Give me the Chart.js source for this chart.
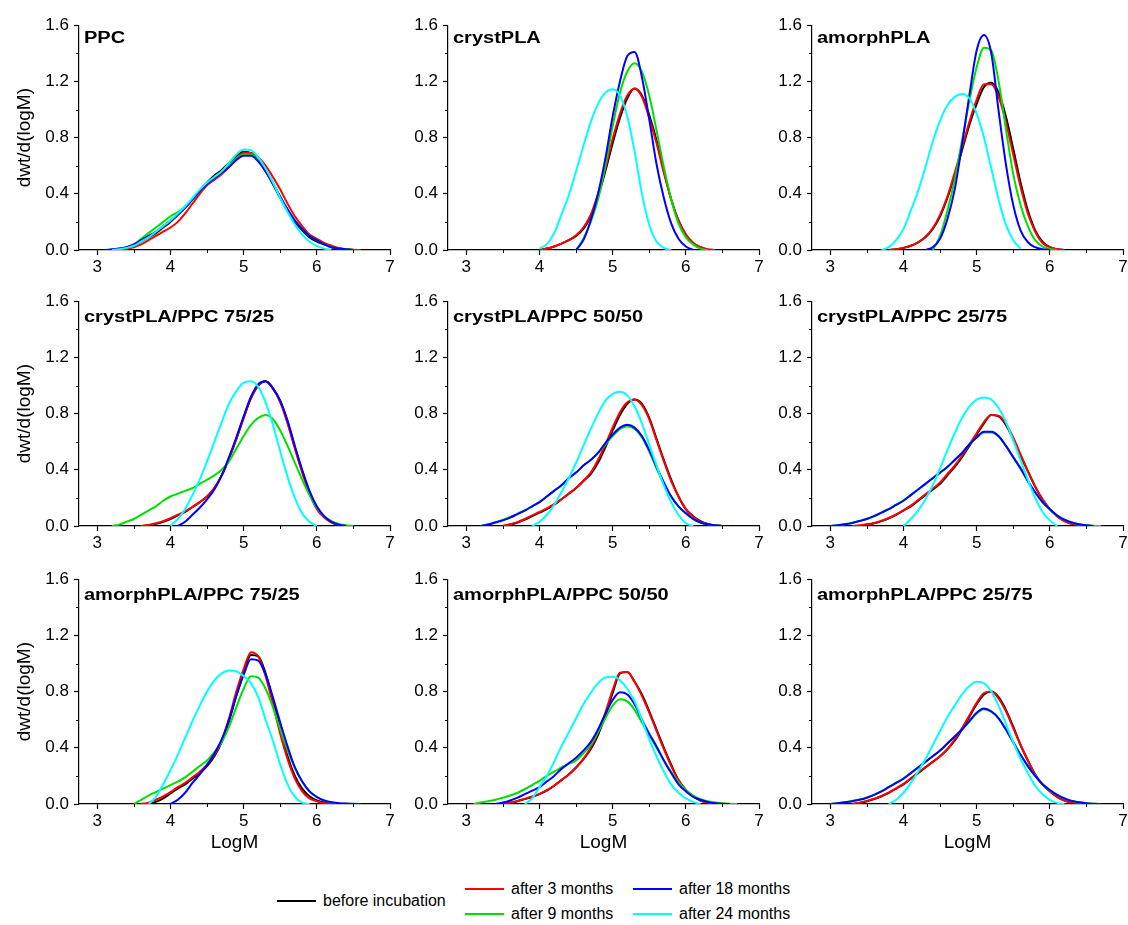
<!DOCTYPE html>
<html>
<head>
<meta charset="utf-8">
<script src="https://cdn.jsdelivr.net/npm/chart.js@4.4.1/dist/chart.umd.min.js"></script>
<style>
  html, body { margin: 0; padding: 0; background: #fff; }
  #figure { position: relative; width: 1128px; height: 925px; overflow: hidden; font-family: "Liberation Sans", Arial, sans-serif; }
  #figure canvas { position: absolute; }
  .key { position: absolute; height: 20px; display: flex; align-items: center; font-size: 16px; color: #000; white-space: nowrap; }
  .key .swatch { display: inline-block; width: 39px; height: 0; border-top: 2px solid; margin-right: 7px; }
</style>
</head>
<body>
<div id="figure"></div>
<script>
const _ = null

// shared axis
const logM = [3.0, 3.1, 3.2, 3.3, 3.4, 3.5, 3.6, 3.7, 3.8, 3.9,
  4.0, 4.1, 4.2, 4.3, 4.4, 4.5, 4.6, 4.7, 4.8, 4.9,
  5.0, 5.1, 5.2, 5.3, 5.4, 5.5, 5.6, 5.7, 5.8, 5.9,
  6.0, 6.1, 6.2, 6.3, 6.4, 6.5, 6.6, 6.7]
const xTicks = [3, 4, 5, 6, 7]
const xMinor = [3.5, 4.5, 5.5, 6.5]
const yTicks = [0, 0.4, 0.8, 1.2, 1.6]
const yMinor = [0.2, 0.6, 1.0, 1.4]

const seriesNames = ['before incubation', 'after 3 months', 'after 9 months', 'after 18 months', 'after 24 months']
const seriesColors = ['#000000', '#ff0000', '#00e000', '#0000ff', '#00ffff']
const panelNames = ['PPC', 'crystPLA', 'amorphPLA',
  'crystPLA/PPC 75/25', 'crystPLA/PPC 50/50', 'crystPLA/PPC 25/75',
  'amorphPLA/PPC 75/25', 'amorphPLA/PPC 50/50', 'amorphPLA/PPC 25/75']

// PPC
const ppcBefore = [_, _, _, 0, .01, .03, .06, .09, .12, .16,
  .20, .25, .30, .36, .42, .48, .53, .57, .62, .67,
  .70, .69, .64, .56, .47, .37, .28, .20, .14, .09,
  .06, .04, .02, .01, .005, 0, _, _]
const ppc3m = [_, _, _, 0, .01, .02, .04, .07, .10, .13,
  .16, .20, .26, .33, .40, .46, .50, .54, .59, .65,
  .69, .69, .66, .60, .52, .43, .33, .24, .17, .11,
  .08, .05, .03, .015, .005, .002, 0, _]
const ppc9m = [_, _, 0, .01, .02, .04, .08, .12, .16, .20,
  .24, .27, .31, .36, .42, .47, .51, .55, .60, .65,
  .68, .68, .64, .57, .48, .38, .29, .21, .15, .10,
  .07, .04, .02, .01, .005, 0, _, _]
const ppc18m = [_, 0, .005, .01, .02, .04, .07, .10, .13, .17,
  .21, .25, .30, .36, .42, .47, .51, .55, .59, .64,
  .67, .67, .63, .56, .47, .38, .29, .21, .15, .10,
  .07, .04, .02, .01, .005, 0, _, _]
const ppc24m = [_, _, 0, .005, .015, .03, .06, .09, .13, .17,
  .21, .26, .31, .37, .43, .48, .52, .56, .62, .68,
  .715, .71, .66, .58, .48, .37, .27, .18, .11, .06,
  .03, .01, 0, _, _, _, _, _]

// crystPLA
const cpBefore = [_, _, _, _, _, _, _, _, _, _,
  0, .01, .025, .045, .07, .10, .15, .24, .38, .56,
  .76, .94, 1.08, 1.15, 1.10, .96, .78, .56, .36, .21,
  .11, .05, .02, 0, _, _, _, _]
const cp3m = [_, _, _, _, _, _, _, _, _, _,
  0, .01, .025, .045, .07, .105, .16, .25, .40, .58,
  .79, .97, 1.10, 1.15, 1.09, .94, .76, .55, .36, .21,
  .11, .05, .02, .005, 0, _, _, _]
const cp9m = [_, _, _, _, _, _, _, _, _, _,
  _, _, _, _, _, 0, .08, .20, .36, .60,
  .88, 1.12, 1.27, 1.33, 1.27, 1.10, .85, .59, .36, .19,
  .09, .04, .01, 0, _, _, _, _]
const cp18m = [_, _, _, _, _, _, _, _, _, _,
  _, _, _, _, _, 0, .07, .21, .40, .65,
  .95, 1.20, 1.38, 1.41, 1.23, .93, .61, .37, .19, .08,
  .025, 0, _, _, _, _, _, _]
const cp24m = [_, _, _, _, _, _, _, _, _, _,
  .01, .04, .12, .25, .39, .56, .74, .91, 1.04, 1.12,
  1.145, 1.10, .95, .70, .40, .18, .06, .015, 0, _,
  _, _, _, _, _, _, _, _]

// amorphPLA
const apBefore = [_, _, _, _, _, _, _, _, 0, .005,
  .015, .03, .055, .09, .15, .24, .37, .53, .71, .89,
  1.04, 1.16, 1.19, 1.12, .95, .72, .48, .28, .14, .06,
  .02, .005, 0, _, _, _, _, _]
const ap3m = [_, _, _, _, _, _, _, _, 0, .005,
  .015, .03, .055, .095, .155, .25, .38, .55, .73, .91,
  1.07, 1.18, 1.18, 1.09, .91, .68, .45, .26, .13, .05,
  .02, .005, 0, _, _, _, _, _]
const ap9m = [_, _, _, _, _, _, _, _, _, _,
  _, _, _, _, 0, .10, .28, .50, .78, 1.06,
  1.30, 1.44, 1.42, 1.20, .86, .54, .32, .17, .07, .025,
  .008, 0, _, _, _, _, _, _]
const ap18m = [_, _, _, _, _, _, _, _, _, _,
  _, _, _, 0, .02, .08, .22, .43, .75, 1.10,
  1.42, 1.53, 1.40, .99, .61, .32, .14, .055, .02, .005,
  0, _, _, _, _, _, _, _]
const ap24m = [_, _, _, _, _, _, _, 0, .02, .07,
  .15, .28, .42, .59, .77, .92, 1.03, 1.09, 1.11, 1.08,
  .97, .80, .58, .36, .18, .07, .01, _, _, _,
  _, _, _, _, _, _, _, _]

// crystPLA/PPC 75/25
const c75Before = [_, _, _, _, _, _, 0, .005, .015, .03,
  .05, .075, .10, .135, .17, .21, .27, .36, .48, .62,
  .77, .91, 1.0, 1.03, .98, .89, .74, .56, .39, .24,
  .13, .065, .027, .008, 0, _, _, _]
const c75m3 = [_, _, _, _, _, _, 0, .008, .02, .035,
  .055, .08, .105, .135, .17, .21, .27, .36, .48, .62,
  .77, .91, 1.0, 1.03, .98, .88, .73, .55, .38, .23,
  .12, .06, .025, .008, 0, _, _, _]
const c75m9 = [_, _, 0, .01, .03, .05, .08, .11, .14, .18,
  .21, .23, .25, .27, .30, .33, .36, .40, .46, .55,
  .64, .72, .77, .79, .76, .68, .57, .45, .33, .22,
  .13, .07, .035, .015, .005, 0, _, _]
const c75m18 = [_, _, _, _, _, _, _, _, _, _,
  _, 0, .03, .08, .13, .19, .26, .36, .49, .63,
  .78, .92, 1.01, 1.03, .98, .89, .75, .57, .40, .25,
  .14, .07, .03, .01, 0, _, _, _]
const c75m24 = [_, _, _, _, _, _, _, _, _, _,
  0, .05, .12, .22, .33, .46, .60, .74, .87, .96,
  1.02, 1.03, .99, .88, .72, .53, .35, .20, .09, .03,
  0, _, _, _, _, _, _, _]

// crystPLA/PPC 50/50
const c50Before = [_, _, _, _, _, 0, .01, .025, .045, .07,
  .095, .12, .15, .19, .23, .27, .32, .37, .45, .56,
  .68, .79, .87, .90, .87, .77, .62, .47, .33, .21,
  .12, .07, .035, .015, .005, 0, _, _]
const c50m3 = [_, _, _, _, _, 0, .012, .028, .05, .075,
  .10, .125, .155, .19, .23, .27, .32, .38, .47, .58,
  .70, .81, .88, .90, .86, .76, .61, .46, .32, .21,
  .12, .065, .03, .012, .004, 0, _, _]
const c50m9 = [_, _, 0, .012, .028, .044, .064, .088, .112, .14,
  .17, .21, .25, .29, .34, .38, .43, .47, .52, .58,
  .64, .69, .71, .69, .63, .53, .41, .30, .21, .14,
  .09, .05, .025, .012, .005, 0, _, _]
const c50m18 = [_, _, 0, .01, .025, .04, .06, .085, .11, .14,
  .17, .21, .25, .29, .34, .38, .43, .47, .52, .59,
  .65, .70, .72, .70, .64, .54, .42, .31, .21, .14,
  .09, .05, .025, .012, .005, 0, _, _]
const c50m24 = [_, _, _, _, _, _, _, _, _, 0,
  .03, .08, .15, .24, .34, .45, .57, .69, .80, .89,
  .94, .955, .93, .85, .73, .58, .43, .29, .17, .08,
  .02, 0, _, _, _, _, _, _]

// crystPLA/PPC 25/75
const c25Before = [_, _, _, _, 0, .01, .02, .035, .055, .08,
  .11, .14, .18, .22, .26, .30, .36, .42, .49, .57,
  .65, .73, .79, .78, .72, .62, .50, .39, .28, .19,
  .12, .07, .035, .015, .005, 0, _, _]
const c25m3 = [_, _, _, 0, .005, .012, .022, .037, .057, .082,
  .112, .145, .185, .225, .265, .31, .37, .43, .50, .58,
  .66, .74, .79, .785, .73, .63, .51, .39, .28, .19,
  .12, .07, .035, .015, .005, 0, _, _]
const c25m9 = [0, .006, .013, .023, .036, .052, .072, .097, .122, .152,
  .182, .22, .26, .30, .34, .38, .42, .47, .52, .58,
  .63, .665, .665, .635, .57, .49, .41, .32, .24, .17,
  .12, .075, .045, .025, .012, .006, .002, 0]
const c25m18 = [0, .005, .012, .022, .035, .05, .07, .095, .12, .15,
  .18, .22, .26, .30, .34, .38, .42, .47, .52, .58,
  .63, .67, .67, .64, .57, .49, .41, .32, .24, .17,
  .12, .075, .045, .025, .012, .005, 0, _]
const c25m24 = [_, _, _, _, _, _, _, _, _, _,
  0, .05, .11, .19, .29, .41, .54, .66, .77, .85,
  .90, .915, .90, .84, .74, .61, .47, .33, .20, .10,
  .04, 0, _, _, _, _, _, _]

// amorphPLA/PPC 75/25
const a75Before = [_, _, _, _, _, _, _, 0, .015, .04,
  .075, .11, .14, .18, .22, .27, .34, .44, .59, .77,
  .93, 1.06, 1.05, .93, .74, .53, .34, .20, .11, .055,
  .025, .01, .004, 0, _, _, _, _]
const a75m3 = [_, _, _, _, _, _, 0, .01, .03, .055,
  .085, .12, .15, .19, .23, .28, .35, .45, .61, .80,
  .96, 1.08, 1.05, .91, .71, .50, .32, .18, .09, .04,
  .02, .008, .002, 0, _, _, _, _]
const a75m9 = [_, _, _, _, _, 0, .03, .06, .085, .11,
  .135, .16, .19, .23, .27, .31, .37, .44, .55, .69,
  .82, .91, .90, .82, .69, .53, .38, .26, .16, .09,
  .05, .025, .012, .005, .002, 0, _, _]
const a75m18 = [_, _, _, _, _, _, _, _, _, _,
  0, .03, .08, .15, .21, .28, .36, .46, .60, .77,
  .92, 1.03, 1.02, .92, .76, .58, .41, .26, .16, .09,
  .05, .025, .012, .006, .003, .001, 0, _]
const a75m24 = [_, _, _, _, _, _, _, 0, .05, .14,
  .24, .35, .47, .59, .70, .80, .88, .93, .95, .945,
  .91, .86, .76, .60, .45, .28, .14, .05, .01, 0,
  _, _, _, _, _, _, _, _]

// amorphPLA/PPC 50/50
const a50Before = [_, _, _, _, _, 0, .008, .02, .035, .05,
  .07, .095, .13, .17, .21, .26, .32, .39, .49, .63,
  .79, .93, .94, .87, .78, .66, .53, .40, .28, .17,
  .10, .055, .025, .01, .003, 0, _, _]
const a50m3 = [_, _, _, _, _, 0, .01, .022, .037, .053,
  .072, .098, .13, .17, .21, .26, .32, .40, .51, .65,
  .81, .935, .94, .87, .77, .65, .52, .39, .27, .17,
  .10, .055, .025, .01, .003, 0, _, _]
const a50m9 = [_, 0, .01, .02, .03, .045, .06, .08, .105, .135,
  .165, .20, .23, .26, .285, .31, .36, .42, .51, .61,
  .70, .745, .73, .67, .58, .49, .40, .31, .23, .155,
  .10, .06, .035, .02, .01, .005, .002, 0]
const a50m18 = [_, _, _, _, 0, .01, .025, .045, .07, .095,
  .12, .16, .20, .25, .29, .33, .38, .44, .53, .64,
  .74, .795, .78, .71, .60, .50, .41, .31, .22, .14,
  .09, .05, .03, .015, .006, .002, 0, _]
const a50m24 = [_, _, _, _, _, _, _, _, 0, .04,
  .12, .20, .30, .41, .51, .61, .71, .79, .86, .90,
  .905, .88, .82, .73, .60, .46, .34, .23, .14, .08,
  .04, .015, 0, _, _, _, _, _]

// amorphPLA/PPC 25/75
const a25Before = [_, _, _, 0, .008, .02, .035, .055, .08, .11,
  .14, .18, .22, .26, .30, .34, .39, .45, .53, .62,
  .71, .78, .80, .76, .67, .55, .42, .31, .21, .14,
  .09, .05, .025, .012, .005, 0, _, _]
const a25m3 = [_, _, _, 0, .009, .022, .037, .057, .082, .112,
  .143, .183, .223, .263, .30, .34, .39, .46, .54, .63,
  .72, .79, .80, .75, .66, .54, .42, .31, .21, .14,
  .09, .05, .025, .012, .005, 0, _, _]
const a25m9 = [0, .006, .013, .022, .032, .047, .067, .092, .122, .152,
  .182, .22, .26, .30, .34, .38, .43, .48, .53, .585,
  .645, .675, .655, .61, .53, .44, .35, .27, .20, .14,
  .10, .065, .04, .022, .012, .005, .002, 0]
const a25m18 = [0, .005, .012, .02, .03, .045, .065, .09, .12, .15,
  .18, .22, .26, .30, .34, .38, .43, .48, .53, .59,
  .65, .68, .66, .61, .53, .44, .35, .27, .20, .14,
  .10, .065, .04, .022, .012, .005, .002, 0]
const a25m24 = [_, _, _, _, _, _, _, _, 0, .03,
  .08, .15, .23, .32, .42, .52, .62, .70, .78, .84,
  .87, .86, .80, .70, .57, .44, .32, .22, .13, .07,
  .03, .008, 0, _, _, _, _, _]

const panels = [
  [ppcBefore, ppc3m, ppc9m, ppc18m, ppc24m],
  [cpBefore, cp3m, cp9m, cp18m, cp24m],
  [apBefore, ap3m, ap9m, ap18m, ap24m],
  [c75Before, c75m3, c75m9, c75m18, c75m24],
  [c50Before, c50m3, c50m9, c50m18, c50m24],
  [c25Before, c25m3, c25m9, c25m18, c25m24],
  [a75Before, a75m3, a75m9, a75m18, a75m24],
  [a50Before, a50m3, a50m9, a50m18, a50m24],
  [a25Before, a25m3, a25m9, a25m18, a25m24]
]

// layout
const colLeft = [79, 448, 812]
const rowTop = [22, 298, 576]
const plotW = 311
const plotH = 228
const padTop = 12
const padRight = 14

Chart.defaults.font.family = '"Liberation Sans", Arial, sans-serif'
Chart.defaults.color = '#000'

// short minor ticks, outward
const minorTicks = {
    id: 'minorTicks',
    afterDraw(chart) {
        const ctx = chart.ctx
        const x = chart.scales.x
        const y = chart.scales.y
        ctx.save()
        ctx.strokeStyle = '#000'
        ctx.lineWidth = 1
        ctx.beginPath()
        xMinor.forEach(v => {
            const px = Math.round(x.getPixelForValue(v)) + 0.5
            ctx.moveTo(px, x.top)
            ctx.lineTo(px, x.top + 3)
        })
        yMinor.forEach(v => {
            const py = Math.round(y.getPixelForValue(v)) + 0.5
            ctx.moveTo(y.right, py)
            ctx.lineTo(y.right - 3, py)
        })
        ctx.stroke()
        ctx.restore()
    }
}

// bold label inside the plot, top left (wide face like the original)
const panelLabel = {
    id: 'panelLabel',
    afterDraw(chart, args, opts) {
        const ctx = chart.ctx
        const area = chart.chartArea
        ctx.save()
        ctx.font = 'bold 16px "Liberation Sans", Arial, sans-serif'
        ctx.fillStyle = '#000'
        ctx.textBaseline = 'alphabetic'
        ctx.translate(area.left + 5, area.top + opts.offset)
        ctx.scale(1.25, 1)
        ctx.fillText(opts.text, 0, 0)
        ctx.restore()
    }
}

const fig = document.getElementById('figure')

function makePanel(idx) {
    const row = Math.floor(idx / 3)
    const col = idx % 3
    const yw = col === 0 ? 79 : 60
    const xh = row === 2 ? 56 : 30
    const w = yw + plotW + padRight
    const h = padTop + plotH + xh

    const canvas = document.createElement('canvas')
    canvas.width = w
    canvas.height = h
    canvas.style.width = w + 'px'
    canvas.style.height = h + 'px'
    canvas.style.left = (colLeft[col] - yw) + 'px'
    canvas.style.top = (rowTop[row] - padTop) + 'px'
    fig.appendChild(canvas)

    const datasets = panels[idx].map((vals, s) => ({
        label: seriesNames[s],
        data: logM.map((x, i) => ({ x: x, y: vals[i] })),
        borderColor: seriesColors[s],
        borderWidth: 2,
        pointRadius: 0,
        fill: false,
        cubicInterpolationMode: 'monotone',
        order: 5 - s
    }))

    new Chart(canvas, {
        type: 'line',
        data: { datasets: datasets },
        plugins: [minorTicks, panelLabel],
        options: {
            responsive: false,
            animation: false,
            events: [],
            layout: { padding: { top: padTop, right: padRight, bottom: 0, left: 0 } },
            plugins: {
                legend: { display: false },
                tooltip: { enabled: false },
                panelLabel: { text: panelNames[idx], offset: row === 0 ? 18 : 21 }
            },
            scales: {
                x: {
                    type: 'linear',
                    min: 2.75,
                    max: 7,
                    afterBuildTicks: s => { s.ticks = xTicks.map(v => ({ value: v })) },
                    afterFit: s => { s.height = xh },
                    ticks: { font: { size: 17 }, color: '#000', padding: 2, maxRotation: 0, autoSkip: false,
                        callback: v => String(v) },
                    grid: { drawOnChartArea: false, tickLength: 5, tickColor: '#000', tickWidth: 1.2 },
                    border: { color: '#000', width: 1.2 },
                    title: { display: row === 2, text: 'LogM', font: { size: 19 }, color: '#000',
                        padding: { top: 0, bottom: 6 } }
                },
                y: {
                    type: 'linear',
                    min: 0,
                    max: 1.6,
                    afterBuildTicks: s => { s.ticks = yTicks.map(v => ({ value: v })) },
                    afterFit: s => { s.width = yw },
                    ticks: { font: { size: 17 }, color: '#000', padding: 5,
                        callback: v => v.toFixed(1) },
                    grid: { drawOnChartArea: false, tickLength: 5, tickColor: '#000', tickWidth: 1.2 },
                    border: { color: '#000', width: 1.2 },
                    title: { display: col === 0, text: 'dwt/d(logM)', font: { size: 19 }, color: '#000',
                        padding: { top: 13, bottom: 0 } }
                }
            }
        }
    })
}

for (let i = 0; i < panels.length; i++) makePanel(i)

// legend
const legendSlots = [[277, 901], [465, 889], [465, 914], [633, 889], [633, 914]]
seriesNames.forEach((name, s) => {
    const item = document.createElement('div')
    item.className = 'key'
    item.style.left = legendSlots[s][0] + 'px'
    item.style.top = (legendSlots[s][1] - 10) + 'px'
    const sw = document.createElement('span')
    sw.className = 'swatch'
    sw.style.borderTopColor = seriesColors[s]
    item.appendChild(sw)
    item.appendChild(document.createTextNode(name))
    fig.appendChild(item)
})
</script>
</body>
</html>
